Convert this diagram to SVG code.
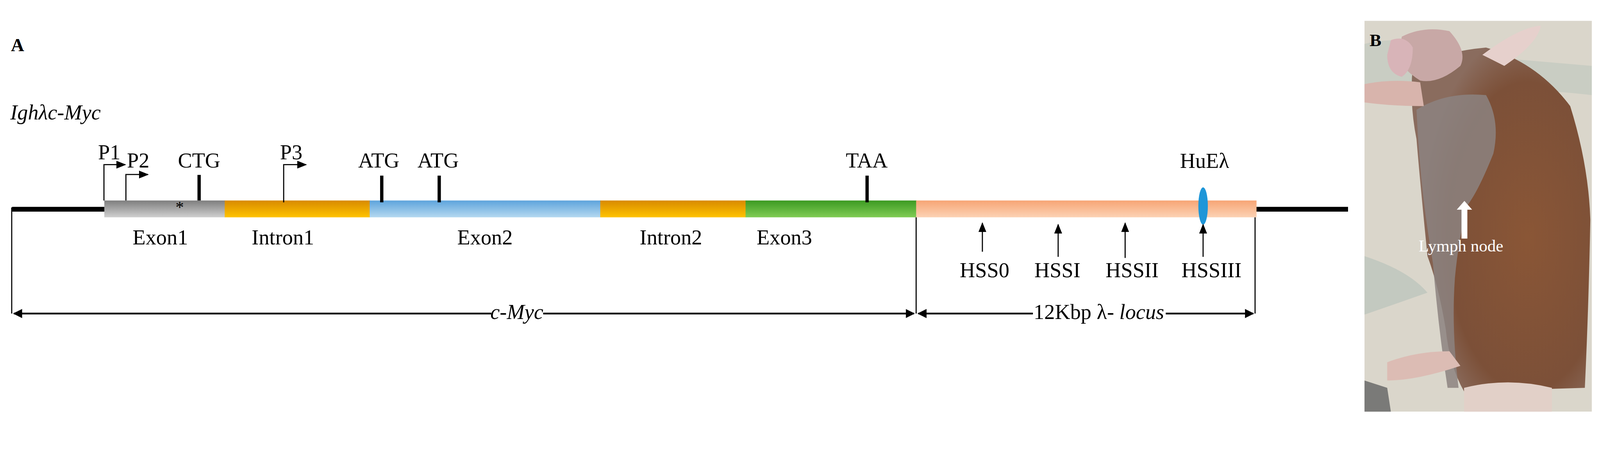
<svg xmlns="http://www.w3.org/2000/svg" width="4374" height="1196" viewBox="0 0 4374 1196">
<style>
text{font-family:"Liberation Serif","Times New Roman",serif;font-size:58px;fill:#000}
.i{font-style:italic}
.tick{stroke:#000;stroke-width:9}
.thin{stroke:#000;stroke-width:3;fill:none}
.pa{stroke:#000;stroke-width:3;fill:none}
.dim{stroke:#000;stroke-width:5;fill:none}
</style>
<defs>
<linearGradient id="gGray" x1="0" y1="0" x2="0" y2="1"><stop offset="0" stop-color="#7e7e7e"/><stop offset="1" stop-color="#cfcfcf"/></linearGradient>
<linearGradient id="gOr" x1="0" y1="0" x2="0" y2="1"><stop offset="0" stop-color="#d88a00"/><stop offset="1" stop-color="#ffc300"/></linearGradient>
<linearGradient id="gBl" x1="0" y1="0" x2="0" y2="1"><stop offset="0" stop-color="#5ea4dc"/><stop offset="1" stop-color="#b4d8f0"/></linearGradient>
<linearGradient id="gGr" x1="0" y1="0" x2="0" y2="1"><stop offset="0" stop-color="#3c9a22"/><stop offset="1" stop-color="#80cc54"/></linearGradient>
<linearGradient id="gPe" x1="0" y1="0" x2="0" y2="1"><stop offset="0" stop-color="#f7a575"/><stop offset="1" stop-color="#fcd2b4"/></linearGradient>
<radialGradient id="gFur" cx="0.65" cy="0.55" r="0.6"><stop offset="0" stop-color="#8a5636"/><stop offset="0.75" stop-color="#7c5038"/><stop offset="1" stop-color="#8a6c5e"/></radialGradient>
<marker id="ah" viewBox="0 0 10 10" refX="9" refY="5" markerWidth="5" markerHeight="5" orient="auto-start-reverse"><path d="M0,0L10,5L0,10z" fill="#000"/></marker>
<marker id="ahs" viewBox="0 0 10 10" refX="9" refY="5" markerWidth="9" markerHeight="9" orient="auto"><path d="M0,1L10,5L0,9z" fill="#000"/></marker>
</defs>
<rect width="4374" height="1196" fill="#fff"/>
<g transform="scale(0.937)">
<text x="30" y="140" style="font-weight:bold;font-size:50px">A</text>
<text class="i" x="28" y="327">Ighλc-Myc</text>

<g id="backbone">
<line x1="33" y1="572" x2="290" y2="572" stroke="#000" stroke-width="13"/>
<line x1="3430" y1="572" x2="3683" y2="572" stroke="#000" stroke-width="13"/>
</g>
<g id="exon1"><rect x="285" y="548" width="330" height="46" fill="url(#gGray)"/><text x="491" y="582" text-anchor="middle" style="font-size:46px">*</text><text x="438" y="668" text-anchor="middle">Exon1</text></g>
<g id="intron1"><rect x="614" y="548" width="397" height="46" fill="url(#gOr)"/><text x="773" y="668" text-anchor="middle">Intron1</text></g>
<g id="exon2"><rect x="1010" y="548" width="631" height="46" fill="url(#gBl)"/><text x="1325" y="668" text-anchor="middle">Exon2</text></g>
<g id="intron2"><rect x="1640" y="548" width="398" height="46" fill="url(#gOr)"/><text x="1833" y="668" text-anchor="middle">Intron2</text></g>
<g id="exon3"><rect x="2037" y="548" width="467" height="46" fill="url(#gGr)"/><text x="2143" y="668" text-anchor="middle">Exon3</text></g>
<g id="locus"><rect x="2503" y="548" width="930" height="46" fill="url(#gPe)"/></g>
<g id="HuEl"><ellipse cx="3287" cy="563" rx="13" ry="51" fill="#1e96d8"/><text x="3291" y="459" text-anchor="middle">HuEλ</text></g>

<g id="P1"><path class="pa" d="M284,548V450H342" marker-end="url(#ahs)"/><text x="268" y="435">P1</text></g>
<g id="P2"><path class="pa" d="M344,548V477H404" marker-end="url(#ahs)"/><text x="347" y="458">P2</text></g>
<g id="P3"><path class="pa" d="M775,553V450H836" marker-end="url(#ahs)"/><text x="765" y="435">P3</text></g>
<g id="CTG"><line class="tick" x1="544" y1="478" x2="544" y2="548"/><text x="544" y="458" text-anchor="middle">CTG</text></g>
<g id="ATG1"><line class="tick" x1="1043" y1="480" x2="1043" y2="553"/><text x="1035" y="458" text-anchor="middle">ATG</text></g>
<g id="ATG2"><line class="tick" x1="1200" y1="480" x2="1200" y2="553"/><text x="1197" y="458" text-anchor="middle">ATG</text></g>
<g id="TAA"><line class="tick" x1="2369" y1="480" x2="2369" y2="553"/><text x="2368" y="458" text-anchor="middle">TAA</text></g>

<g id="HSS">
<line class="thin" x1="2684" y1="688" x2="2684" y2="610" marker-end="url(#ahs)"/><text x="2690" y="758" text-anchor="middle">HSS0</text>
<line class="thin" x1="2891" y1="702" x2="2891" y2="614" marker-end="url(#ahs)"/><text x="2889" y="758" text-anchor="middle">HSSI</text>
<line class="thin" x1="3074" y1="705" x2="3074" y2="610" marker-end="url(#ahs)"/><text x="3093" y="758" text-anchor="middle">HSSII</text>
<line class="thin" x1="3287" y1="702" x2="3287" y2="614" marker-end="url(#ahs)"/><text x="3310" y="758" text-anchor="middle">HSSIII</text>
</g>

<g id="connectors">
<line class="thin" x1="32" y1="567" x2="32" y2="857"/>
<line class="thin" x1="2503" y1="594" x2="2503" y2="857"/>
<line class="thin" x1="3429" y1="594" x2="3429" y2="857"/>
<line class="dim" x1="38" y1="857" x2="1342" y2="857" marker-start="url(#ah)"/>
<line class="dim" x1="1484" y1="857" x2="2497" y2="857" marker-end="url(#ah)"/>
<line class="dim" x1="2509" y1="857" x2="2822" y2="857" marker-start="url(#ah)"/>
<line class="dim" x1="3185" y1="857" x2="3424" y2="857" marker-end="url(#ah)"/>
<text class="i" x="1412" y="872" text-anchor="middle">c-Myc</text>
<text x="2824" y="872">12Kbp λ- <tspan class="i">locus</tspan></text>
</g>

<g id="photo">
<rect x="3728" y="57" width="621" height="1068" fill="#dad6cb"/>
<path d="M3728,120 Q3850,90 4000,150 L4349,180 L4349,260 Q4100,230 3728,260z" fill="#c9cdc3"/>
<path d="M3728,700 Q3850,740 3900,800 L3728,860z" fill="#c3c9c0"/>
<path d="M3728,1040 L3790,1060 L3800,1125 L3728,1125z" fill="#7a7a78"/>
<path d="M3860,180 Q3950,140 4060,130 Q4200,170 4290,290 Q4340,450 4345,600 Q4340,850 4330,1060 L4000,1070 Q3960,1000 3950,900 Q3930,780 3900,700 Q3880,500 3870,380 Q3850,280 3860,180z" fill="url(#gFur)"/>
<path d="M3870,300 Q3950,250 4060,260 Q4100,330 4080,420 Q4040,520 4010,560 Q3985,650 3975,760 Q3965,900 3985,1060 L3955,1060 Q3930,900 3915,720 Q3880,520 3870,300z" fill="#8c8380" opacity="0.85"/>
<path d="M3830,100 Q3890,70 3960,85 Q4010,140 3990,180 Q3930,230 3880,220 Q3830,190 3820,150z" fill="#c8a8a6"/>
<path d="M3800,110 Q3840,95 3860,130 Q3860,190 3830,210 Q3790,200 3790,150z" fill="#d8b4b8"/>
<path d="M4050,150 Q4150,75 4210,70 Q4200,120 4110,180z" fill="#e6d0cc"/>
<path d="M3728,230 Q3800,215 3880,225 L3890,290 Q3800,290 3728,280z" fill="#d8b4ac"/>
<path d="M3790,990 Q3870,960 3960,960 L3990,1000 Q3870,1040 3790,1040z" fill="#dcbcb4"/>
<path d="M4000,1060 Q4120,1030 4240,1060 L4240,1125 L4000,1125z" fill="#e2d0c8"/>
<polygon points="4001,549 3980,573 3993,573 3993,652 4009,652 4009,573 4022,573" fill="#fff"/>
<text x="3876" y="687" style="fill:#fff;font-size:46px">Lymph node</text>
<text x="3742" y="126" style="font-weight:bold;font-size:48px">B</text>
</g>
</g>
</svg>
